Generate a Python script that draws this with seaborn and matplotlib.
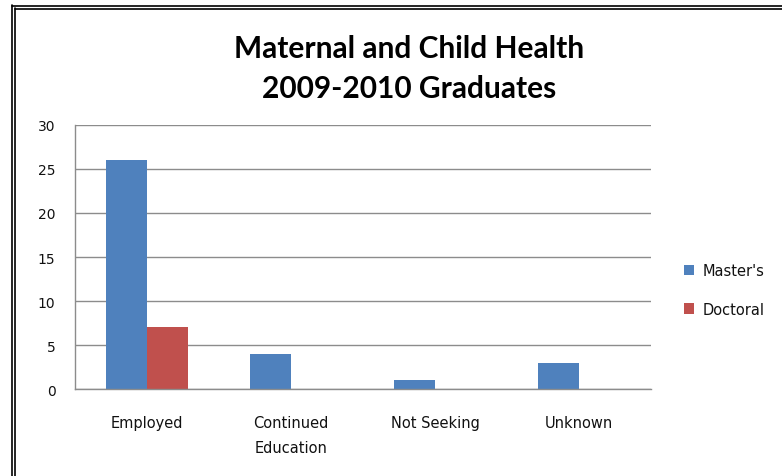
import matplotlib
matplotlib.use("Agg")
import matplotlib.pyplot as plt
from matplotlib.lines import Line2D
import seaborn as sns
import pandas as pd

categories = ["Employed", "Continued\nEducation", "Not Seeking", "Unknown"]
masters = [26, 4, 1, 3]
doctoral = [7, 0, 0, 0]
series_names = ["Master's", "Doctoral"]
y_ticks = [0, 5, 10, 15, 20, 25, 30]

df = pd.DataFrame({
    "category": categories * 2,
    "value": masters + doctoral,
    "series": [series_names[0]] * len(categories) + [series_names[1]] * len(categories),
})

sns.set_theme(style="white")
plt.rcParams['font.family'] = ['DejaVu Sans']

fig = plt.figure(figsize=(7.82, 4.77), dpi=100)
ax = fig.add_axes([75/782, 1 - 390/477, (651-75)/782, (390-126)/477])

sns.barplot(data=df, x="category", y="value", hue="series", ax=ax,
            palette=["#4F81BD", "#C0504D"], width=0.57, gap=0,
            saturation=1, linewidth=0, legend=True)

ax.set_ylim(0, 30)
ax.set_yticks(y_ticks)
ax.set_xlim(-0.5, len(categories) - 0.5)
ax.yaxis.grid(True, color="#8c8c8c", linewidth=1.0)
ax.set_axisbelow(True)
for s in ["top", "right"]:
    ax.spines[s].set_visible(False)
for s in ["left", "bottom"]:
    ax.spines[s].set_color("#8c8c8c")
    ax.spines[s].set_linewidth(1.0)
ax.set_xlabel("")
ax.set_ylabel("")
ax.tick_params(axis="y", labelsize=10, colors="#111111", pad=14, length=0)
ax.tick_params(axis="x", labelsize=10.5, colors="#111111", pad=19, length=0)
for lbl in ax.get_xticklabels():
    lbl.set_linespacing(1.8)
    lbl.set_va("top")

leg = ax.legend(loc="center left", bbox_to_anchor=(671/782, 1 - 291/477),
                bbox_transform=fig.transFigure, frameon=False,
                fontsize=10.5, handlelength=0.7, handleheight=0.7,
                handletextpad=0.6, labelspacing=1.6)
for t in leg.get_texts():
    t.set_color("#111111")

fig.text(409/782, 1 - 49/477, "Maternal and Child Health", ha="center", va="center",
         fontsize=21.5, fontweight="bold", family="Lato", color="black")
fig.text(409/782, 1 - 89/477, "2009-2010 Graduates", ha="center", va="center",
         fontsize=21.5, fontweight="bold", family="Lato", color="black")

# double border frame (left and top)
for x in [11.5/782, 14.5/782]:
    fig.add_artist(Line2D([x, x], [0, 1 - (6 if x < 13/782 else 9)/477],
                          transform=fig.transFigure, color="black", linewidth=1.2))
for y, x0 in [(1 - 6.5/477, 11.5/782), (1 - 9.5/477, 14.5/782)]:
    fig.add_artist(Line2D([x0, 1], [y, y], transform=fig.transFigure,
                          color="black", linewidth=1.2))

fig.savefig("out.png", dpi=100)
